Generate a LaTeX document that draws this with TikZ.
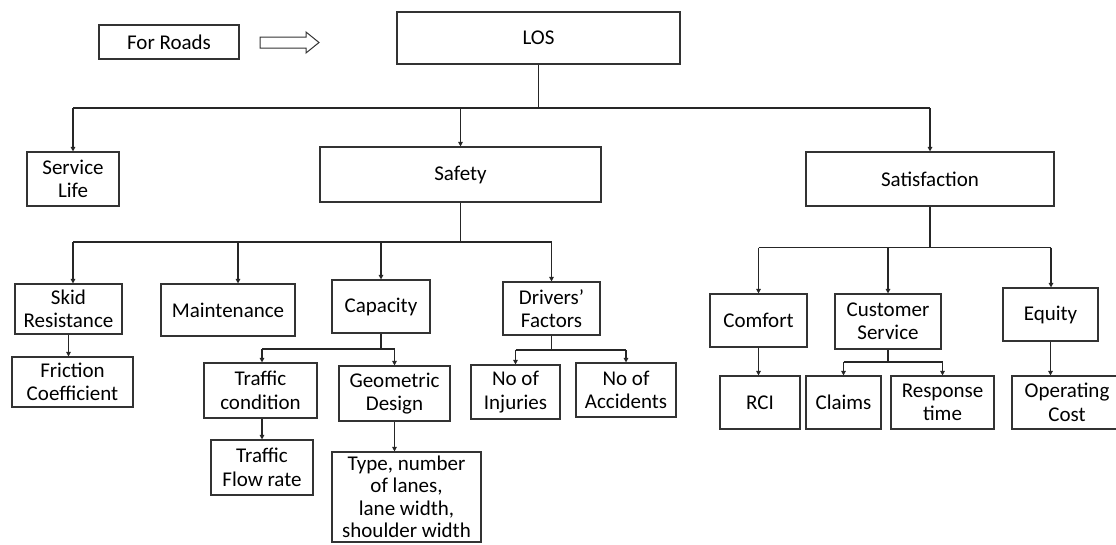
\documentclass[tikz,border=0pt]{standalone}
\usepackage{fontspec}
\setmainfont{Carlito}
\usetikzlibrary{arrows.meta}
\begin{document}
\begin{tikzpicture}[x=1pt,y=-1pt,
  every node/.style={font=\fontsize{21}{23.5}\selectfont},
  box/.style={draw=black!80, line width=1.1pt, inner sep=0pt, align=center, fill=white},
  conn/.style={draw=black!85, line width=1.2pt},
  arr/.style={conn, -{Triangle[length=4.5pt,width=4.5pt]}}]
\useasboundingbox (0,0) rectangle (1116,544);
% nodes
\node[box, minimum width=140, minimum height=34] (roads) at (169,42) {For Roads};
\node[box, minimum width=283, minimum height=52] (los) at (538.5,38) {LOS};
\node[box, minimum width=92, minimum height=54] (life) at (73,179) {Service\\Life};
\node[box, minimum width=281, minimum height=55] (safety) at (460.5,174.5) {Safety};
\node[box, minimum width=248, minimum height=54] (satis) at (930,179) {Satisfaction};
\node[box, minimum width=107, minimum height=50] (skid) at (68.5,309) {Skid\\Resistance};
\node[box, minimum width=134, minimum height=52] (maint) at (228,310) {Maintenance};
\node[box, minimum width=98, minimum height=53] (cap) at (381,306.5) {Capacity};
\node[box, minimum width=97, minimum height=53] (drv) at (551.5,308.5) {Drivers’\\Factors};
\node[box, minimum width=97, minimum height=53] (comfort) at (758.5,320.5) {Comfort};
\node[box, minimum width=106, minimum height=55] (cs) at (888,321.5) {Customer\\Service};
\node[box, minimum width=95, minimum height=53] (equity) at (1050.5,314.5) {Equity};
\node[box, minimum width=121, minimum height=50] (friction) at (72.5,382) {Friction\\Coefficient};
\node[box, minimum width=113, minimum height=55] (tcond) at (260.5,390.5) {Traffic\\condition};
\node[box, minimum width=111, minimum height=55] (geo) at (394.5,393.5) {Geometric\\Design};
\node[box, minimum width=89, minimum height=54] (inj) at (515.5,392) {No of\\Injuries};
\node[box, minimum width=100, minimum height=54] (acc) at (626,390) {No of\\Accidents};
\node[box, minimum width=80, minimum height=53] (rci) at (760,402.5) {RCI};
\node[box, minimum width=75, minimum height=53] (claims) at (843.5,402.5) {Claims};
\node[box, minimum width=103, minimum height=53] (resp) at (942.5,402.5) {Response\\time};
\node[box, minimum width=110, minimum height=53] (opcost) at (1067,402.5) {Operating\\Cost};
\node[box, minimum width=102, minimum height=55] (flow) at (262,467.5) {Traffic\\Flow rate};
\node[box, minimum width=149, minimum height=90, font=\fontsize{21}{22.5}\selectfont] (type) at (406.5,497) {\raisebox{2pt}{\parbox{146pt}{\centering Type, number\\of lanes,\\ lane width,\\shoulder width}}};
% hollow arrow
\draw[black!80, line width=1pt] (260,37) -- (306,37) -- (306,32) -- (319,42.5) -- (306,53) -- (306,48) -- (260,48) -- cycle;
% junction coordinates
\coordinate (t1) at (538.5,108);
\coordinate (t1L) at (73,108);
\coordinate (t1R) at (930,108);
\coordinate (t1S) at (460.5,108);
\coordinate (t2) at (460.5,242);
\coordinate (t2L) at (73,242);
\coordinate (t2M) at (238,242);
\coordinate (t2C) at (381,242);
\coordinate (t2R) at (551.5,242);
\coordinate (t3) at (381,349);
\coordinate (t3L) at (262,349);
\coordinate (t3R) at (394.5,349);
\coordinate (t4) at (551.5,350);
\coordinate (t4L) at (515.5,350);
\coordinate (t4R) at (626,350);
\coordinate (t5) at (930,247.5);
\coordinate (t5L) at (758.5,247.5);
\coordinate (t5M) at (888,247.5);
\coordinate (t5R) at (1051,247.5);
\coordinate (t6) at (888,362);
\coordinate (t6L) at (843.5,362);
\coordinate (t6R) at (942.5,362);
% LOS level
\draw[conn] (los.south) -- (t1);
\draw[conn] (t1L) -- (t1R);
\draw[arr] (t1L) -- (life.north);
\draw[arr] (t1S) -- (safety.north);
\draw[arr] (t1R) -- (satis.north);
% Safety level
\draw[conn] (safety.south) -- (t2);
\draw[conn] (t2L) -- (t2R);
\draw[arr] (t2L) -- (t2L |- skid.north);
\draw[arr] (t2M) -- (t2M |- maint.north);
\draw[arr] (t2C) -- (cap.north);
\draw[arr] (t2R) -- (drv.north);
% Skid
\draw[arr] (skid.south) -- (skid.south |- friction.north);
% Capacity
\draw[conn] (cap.south) -- (t3);
\draw[conn] (t3L) -- (t3R);
\draw[arr] (t3L) -- (t3L |- tcond.north);
\draw[arr] (t3R) -- (geo.north);
\draw[arr] (t3L |- tcond.south) -- (t3L |- flow.north);
\draw[arr] (geo.south) -- (geo.south |- type.north);
% Drivers
\draw[conn] (drv.south) -- (t4);
\draw[conn] (t4L) -- (t4R);
\draw[arr] (t4L) -- (inj.north);
\draw[arr] (t4R) -- (acc.north);
% Satisfaction
\draw[conn] (satis.south) -- (t5);
\draw[conn] (t5L) -- (t5R);
\draw[arr] (t5L) -- (comfort.north);
\draw[arr] (t5M) -- (cs.north);
\draw[arr] (t5R) -- (t5R |- equity.north);
\draw[arr] (comfort.south) -- (comfort.south |- rci.north);
\draw[conn] (cs.south) -- (t6);
\draw[conn] (t6L) -- (t6R);
\draw[arr] (t6L) -- (claims.north);
\draw[arr] (t6R) -- (resp.north);
\draw[arr] (equity.south) -- (equity.south |- opcost.north);
\end{tikzpicture}
\end{document}
